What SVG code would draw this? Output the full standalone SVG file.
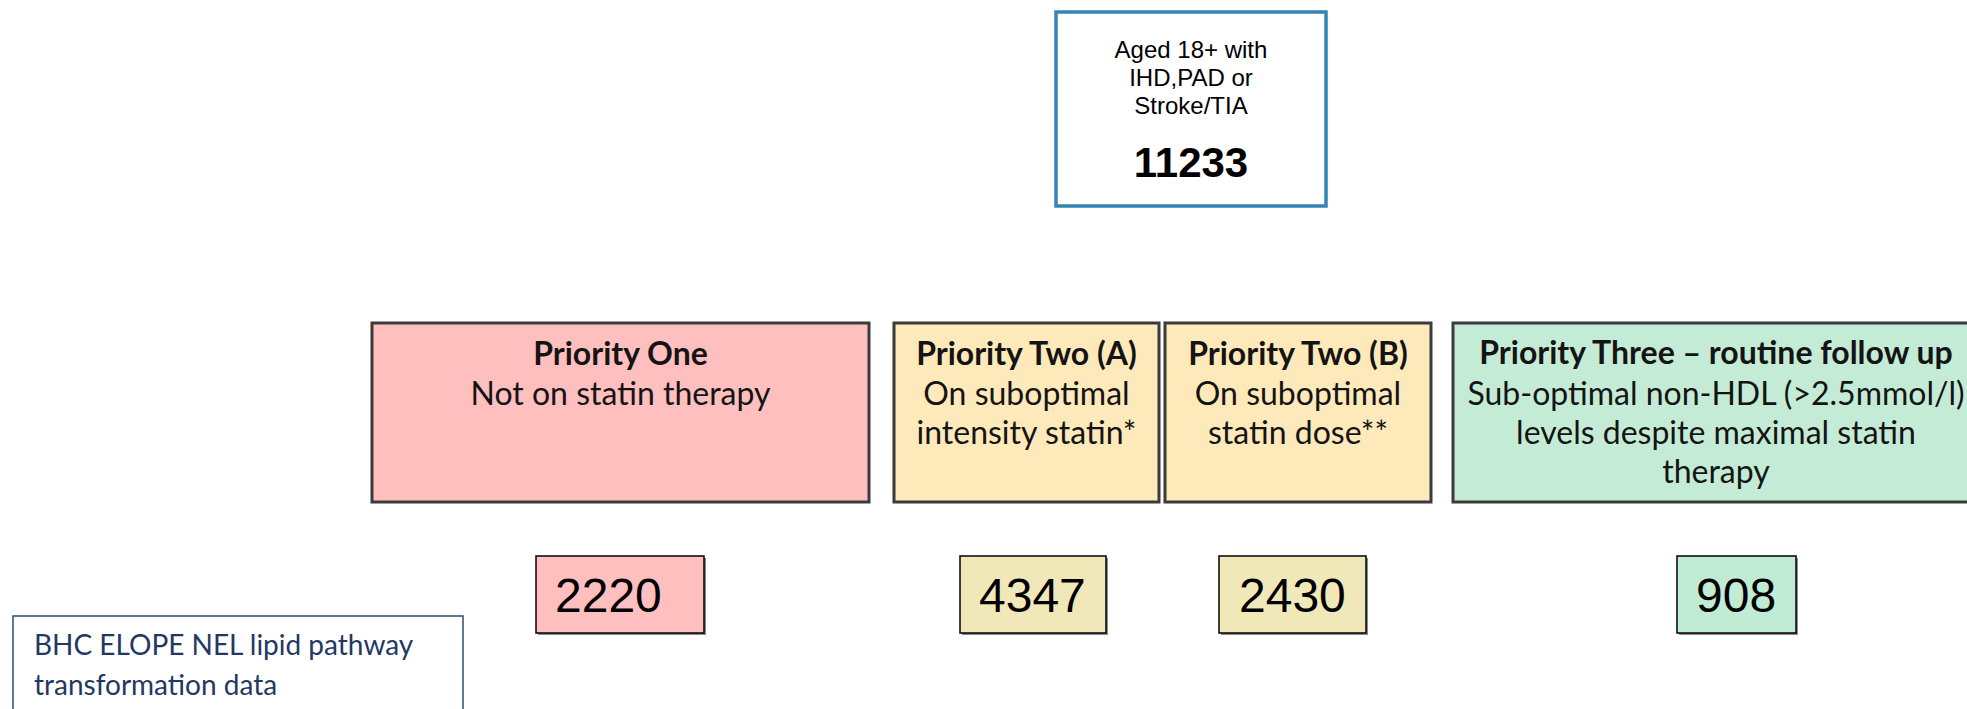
<svg xmlns="http://www.w3.org/2000/svg" width="1967" height="709" viewBox="0 0 1967 709">
  <style>
    .cohort { fill: #ffffff; stroke: #3385b2; stroke-width: 3.5; }
    .cohort-txt { font-family: "Liberation Sans", Arial, sans-serif; font-size: 24px; fill: #000; text-anchor: middle; }
    .cohort-num { font-family: "Liberation Sans", Arial, sans-serif; font-size: 42px; font-weight: bold; fill: #000; text-anchor: middle; }
    .prio { stroke: #3b3b3b; stroke-width: 3; }
    .p1 { fill: #ffbfbf; }
    .p2 { fill: #fee9bb; }
    .p3 { fill: #c4ebd6; }
    .prio-head { font-family: Lato, "Open Sans", sans-serif; font-weight: bold; font-size: 32px; fill: #141414; text-anchor: middle; }
    .prio-body { font-family: Lato, "Open Sans", sans-serif; font-size: 32px; fill: #141414; text-anchor: middle; }
    .count { stroke: #000; stroke-width: 1.5; }
    .c1 { fill: #ffbfbf; }
    .c2 { fill: #f1e8b9; }
    .c3 { fill: #c0ebd4; }
    .shadow { fill: #8a8a8a; }
    .count-txt { font-family: "Liberation Sans", Arial, sans-serif; font-size: 48px; fill: #000; }
    .note { fill: #ffffff; stroke: #2f4b72; stroke-width: 1.5; }
    .note-txt { font-family: Lato, "Open Sans", sans-serif; font-size: 28px; fill: #1f3864; }
  </style>

  <rect width="1967" height="709" fill="#ffffff"/>

  <!-- population box -->
  <g id="cohort">
    <rect class="cohort" x="1056" y="12" width="270" height="194"/>
    <text class="cohort-txt" x="1191" y="58">Aged 18+ with</text>
    <text class="cohort-txt" x="1191" y="86">IHD,PAD or</text>
    <text class="cohort-txt" x="1191" y="114">Stroke/TIA</text>
    <text class="cohort-num" x="1191" y="177">11233</text>
  </g>

  <!-- priority categories -->
  <g id="priority-one">
    <rect class="prio p1" x="372" y="323" width="497" height="179"/>
    <text class="prio-head" x="620.5" y="365">Priority One</text>
    <text class="prio-body" x="620.5" y="405">Not on statin therapy</text>
  </g>

  <g id="priority-two-a">
    <rect class="prio p2" x="894" y="323" width="265" height="179"/>
    <text class="prio-head" x="1026.5" y="365">Priority Two (A)</text>
    <text class="prio-body" x="1026.5" y="405">On suboptimal</text>
    <text class="prio-body" x="1026.5" y="444">intensity statin*</text>
  </g>

  <g id="priority-two-b">
    <rect class="prio p2" x="1165" y="323" width="266" height="179"/>
    <text class="prio-head" x="1298" y="365">Priority Two (B)</text>
    <text class="prio-body" x="1298" y="405">On suboptimal</text>
    <text class="prio-body" x="1298" y="444">statin dose**</text>
  </g>

  <g id="priority-three">
    <rect class="prio p3" x="1453" y="323" width="530" height="179"/>
    <text class="prio-head" x="1716" y="364">Priority Three – routine follow up</text>
    <text class="prio-body" x="1716" y="405">Sub-optimal non-HDL (&gt;2.5mmol/l)</text>
    <text class="prio-body" x="1716" y="444">levels despite maximal statin</text>
    <text class="prio-body" x="1716" y="483">therapy</text>
  </g>

  <!-- patient counts -->
  <g id="count-one">
    <rect class="shadow" x="538" y="558" width="168" height="77"/>
    <rect class="count c1" x="536" y="556" width="168" height="77"/>
    <text class="count-txt" x="555" y="612">2220</text>
  </g>

  <g id="count-two-a">
    <rect class="shadow" x="962" y="558" width="146" height="77"/>
    <rect class="count c2" x="960" y="556" width="146" height="77"/>
    <text class="count-txt" x="979" y="612">4347</text>
  </g>

  <g id="count-two-b">
    <rect class="shadow" x="1221" y="558" width="147" height="77"/>
    <rect class="count c2" x="1219" y="556" width="147" height="77"/>
    <text class="count-txt" x="1239" y="612">2430</text>
  </g>

  <g id="count-three">
    <rect class="shadow" x="1679" y="558" width="119" height="77"/>
    <rect class="count c3" x="1677" y="556" width="119" height="77"/>
    <text class="count-txt" x="1696" y="612">908</text>
  </g>

  <!-- source note -->
  <g id="source-note">
    <rect class="note" x="13" y="616" width="450" height="120"/>
    <text class="note-txt" x="34" y="655">BHC ELOPE NEL lipid pathway</text>
    <text class="note-txt" x="34" y="695">transformation data</text>
  </g>

  <g id="connectors"></g>
</svg>
